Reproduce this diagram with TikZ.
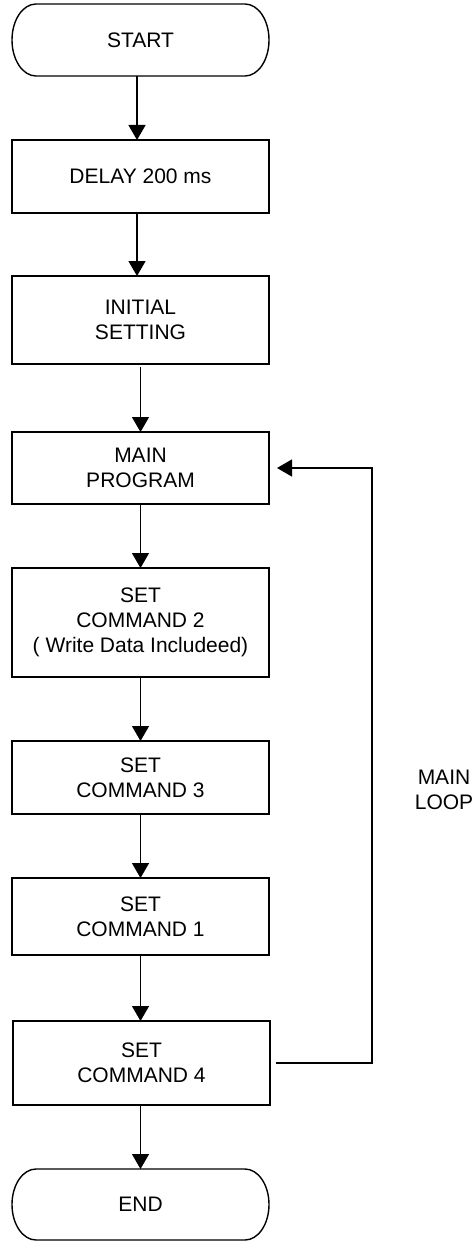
\documentclass[tikz,border=0pt]{standalone}
\usepackage{fontspec}
\setmainfont{Liberation Sans}
\usetikzlibrary{arrows.meta,calc}

\tikzset{
  x=0.5pt, y=0.5pt,
  every node/.style={font=\fontsize{10.5}{12.4}\selectfont, align=center, inner sep=0pt, outer sep=0pt},
  procbox/.style={draw, line width=0.7pt, minimum width=128.5pt},
  termbox/.style={minimum width=128.5pt},
  flow/.style={line width=0.7pt, -{Triangle[length=7.5pt,width=8.5pt]}},
  plainline/.style={line width=0.7pt},
}

\begin{document}
\begin{tikzpicture}
  \useasboundingbox (0,0) rectangle (475,-1241);

  % terminals: a text node with an outline drawn round it, elliptic ends
  \node[termbox, minimum height=36pt] (start) at (140.5,-40) {START};
  \draw[plainline] ($(start.north west)+(24,0)$) -- ($(start.north east)+(-24,0)$)
    arc[start angle=90, end angle=-90, x radius=12pt, y radius=18pt]
    -- ($(start.south west)+(24,0)$)
    arc[start angle=270, end angle=90, x radius=12pt, y radius=18pt] -- cycle;

  \node[procbox, minimum height=36.5pt] (delay) at (140.5,-176.5) {DELAY 200 ms};
  \node[procbox, minimum height=44pt] (init) at (140.5,-320) {INITIAL\\SETTING};
  \node[procbox, minimum height=36pt] (main) at (140.5,-468) {MAIN\\PROGRAM};
  \node[procbox, minimum height=54.5pt] (cmdtwo) at (140.5,-622.5) {SET\\COMMAND 2\\( Write Data Includeed)};
  \node[procbox, minimum height=36.5pt] (cmdthree) at (140.5,-777.5) {SET\\COMMAND 3};
  \node[procbox, minimum height=38.5pt] (cmdone) at (140.5,-916.5) {SET\\COMMAND 1};
  \node[procbox, minimum height=42pt] (cmdfour) at (141.5,-1063) {SET\\COMMAND 4};

  \node[termbox, minimum height=35.5pt] (end) at (140.5,-1204.5) {END};
  \draw[plainline] ($(end.north west)+(24,0)$) -- ($(end.north east)+(-24,0)$)
    arc[start angle=90, end angle=-90, x radius=12pt, y radius=17.75pt]
    -- ($(end.south west)+(24,0)$)
    arc[start angle=270, end angle=90, x radius=12pt, y radius=17.75pt] -- cycle;

  \node (looplabel) at (444,-790) {MAIN\\LOOP};

  % main flow
  \draw[flow] ([xshift=-1.75pt]start.south) -- ([xshift=-1.75pt]delay.north);
  \draw[flow] ([xshift=-1.75pt]delay.south) -- ([xshift=-1.75pt]init.north);
  \draw[flow] ([yshift=-1.5pt]init.south) -- (main.north);
  \draw[flow] (main.south) -- (cmdtwo.north);
  \draw[flow] (cmdtwo.south) -- (cmdthree.north);
  \draw[flow] (cmdthree.south) -- (cmdone.north);
  \draw[flow] (cmdone.south) -- ([xshift=-0.5pt]cmdfour.north);
  \draw[flow] ([xshift=-0.5pt]cmdfour.south) -- (end.north);

  % loop back to the main program
  \coordinate (loopx) at (372,0);
  \draw[flow, shorten <=3pt, shorten >=4pt] (cmdfour.east) -- (cmdfour.east -| loopx)
    -- (main.east -| loopx) -- (main.east);
\end{tikzpicture}
\end{document}
